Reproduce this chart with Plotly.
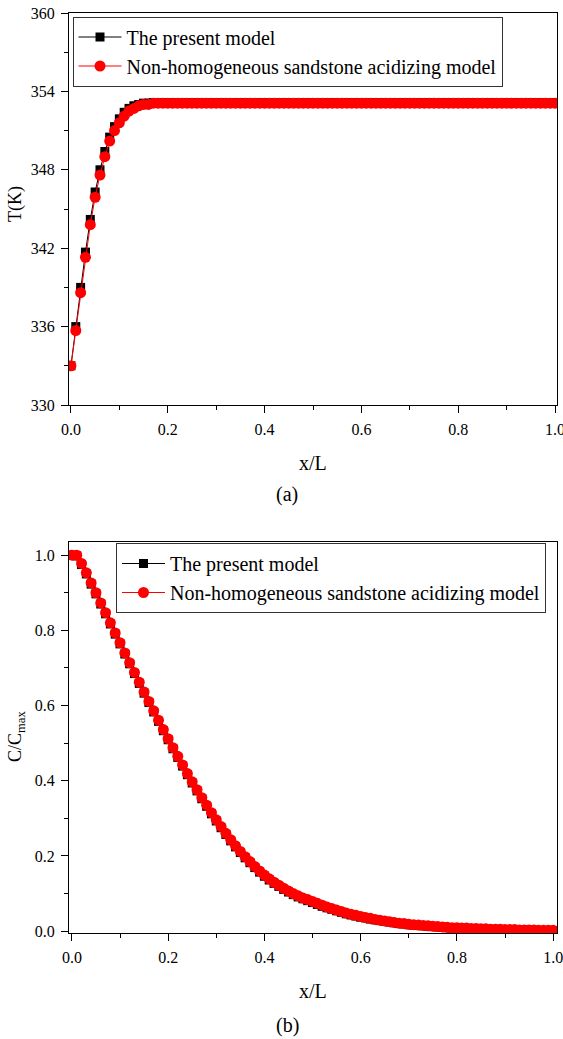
import plotly.graph_objects as go

x_vals = [round(i * 0.01, 2) for i in range(101)]

# (a) temperature profile, T (K)
t_present = [
    333.0, 336.0, 339.0, 341.7, 344.2, 346.3, 348.0, 349.4, 350.5, 351.3,
    351.9, 352.4, 352.7, 352.9, 353.0, 353.1, 353.1, 353.15, 353.15, 353.15,
    353.15, 353.15, 353.15, 353.15, 353.15, 353.15, 353.15, 353.15, 353.15, 353.15,
    353.15, 353.15, 353.15, 353.15, 353.15, 353.15, 353.15, 353.15, 353.15, 353.15,
    353.15, 353.15, 353.15, 353.15, 353.15, 353.15, 353.15, 353.15, 353.15, 353.15,
    353.15, 353.15, 353.15, 353.15, 353.15, 353.15, 353.15, 353.15, 353.15, 353.15,
    353.15, 353.15, 353.15, 353.15, 353.15, 353.15, 353.15, 353.15, 353.15, 353.15,
    353.15, 353.15, 353.15, 353.15, 353.15, 353.15, 353.15, 353.15, 353.15, 353.15,
    353.15, 353.15, 353.15, 353.15, 353.15, 353.15, 353.15, 353.15, 353.15, 353.15,
    353.15, 353.15, 353.15, 353.15, 353.15, 353.15, 353.15, 353.15, 353.15, 353.15,
    353.15,
]
t_nonhomo = [
    333.0, 335.7, 338.6, 341.3, 343.8, 345.9, 347.6, 349.0, 350.2, 351.0,
    351.6, 352.1, 352.5, 352.7, 352.9, 353.0, 353.0, 353.1, 353.1, 353.1,
    353.1, 353.1, 353.1, 353.1, 353.1, 353.1, 353.1, 353.1, 353.1, 353.1,
    353.1, 353.1, 353.1, 353.1, 353.1, 353.1, 353.1, 353.1, 353.1, 353.1,
    353.1, 353.1, 353.1, 353.1, 353.1, 353.1, 353.1, 353.1, 353.1, 353.1,
    353.1, 353.1, 353.1, 353.1, 353.1, 353.1, 353.1, 353.1, 353.1, 353.1,
    353.1, 353.1, 353.1, 353.1, 353.1, 353.1, 353.1, 353.1, 353.1, 353.1,
    353.1, 353.1, 353.1, 353.1, 353.1, 353.1, 353.1, 353.1, 353.1, 353.1,
    353.1, 353.1, 353.1, 353.1, 353.1, 353.1, 353.1, 353.1, 353.1, 353.1,
    353.1, 353.1, 353.1, 353.1, 353.1, 353.1, 353.1, 353.1, 353.1, 353.1,
    353.1,
]

# (b) normalised concentration, C/Cmax
c_nonhomo = [
    1.000, 1.000, 0.978, 0.953, 0.926, 0.900, 0.873, 0.847, 0.820, 0.793,
    0.767, 0.740, 0.714, 0.688, 0.662, 0.636, 0.611, 0.586, 0.561, 0.536,
    0.512, 0.488, 0.465, 0.442, 0.419, 0.397, 0.376, 0.355, 0.335, 0.315,
    0.296, 0.278, 0.260, 0.243, 0.227, 0.212, 0.198, 0.185, 0.172, 0.160,
    0.149, 0.139, 0.130, 0.122, 0.114, 0.107, 0.100, 0.094, 0.088, 0.084,
    0.079, 0.074, 0.069, 0.064, 0.060, 0.056, 0.052, 0.048, 0.045, 0.042,
    0.039, 0.036, 0.034, 0.031, 0.029, 0.027, 0.025, 0.023, 0.021, 0.020,
    0.018, 0.017, 0.016, 0.015, 0.014, 0.013, 0.012, 0.011, 0.010, 0.009,
    0.009, 0.008, 0.008, 0.007, 0.007, 0.006, 0.006, 0.005, 0.005, 0.005,
    0.004, 0.004, 0.004, 0.003, 0.003, 0.003, 0.003, 0.002, 0.002, 0.002,
    0.002,
]
c_present = [
    1.000, 0.998, 0.975, 0.950, 0.923, 0.897, 0.870, 0.844, 0.817, 0.790,
    0.764, 0.737, 0.711, 0.685, 0.659, 0.633, 0.608, 0.583, 0.558, 0.533,
    0.509, 0.485, 0.462, 0.439, 0.416, 0.394, 0.373, 0.352, 0.332, 0.312,
    0.293, 0.275, 0.257, 0.240, 0.224, 0.209, 0.195, 0.182, 0.169, 0.157,
    0.146, 0.136, 0.127, 0.119, 0.111, 0.104, 0.097, 0.091, 0.086, 0.081,
    0.076, 0.071, 0.066, 0.062, 0.058, 0.054, 0.050, 0.046, 0.043, 0.040,
    0.037, 0.035, 0.032, 0.030, 0.028, 0.026, 0.024, 0.022, 0.020, 0.019,
    0.017, 0.016, 0.015, 0.014, 0.013, 0.012, 0.011, 0.010, 0.009, 0.008,
    0.008, 0.007, 0.007, 0.006, 0.006, 0.005, 0.005, 0.004, 0.004, 0.004,
    0.003, 0.003, 0.003, 0.002, 0.002, 0.002, 0.002, 0.001, 0.001, 0.001,
    0.001,
]

x_ticks = [0, 0.2, 0.4, 0.6, 0.8, 1.0]
x_tick_text = ["0.0", "0.2", "0.4", "0.6", "0.8", "1.0"]
t_ticks = [330, 336, 342, 348, 354, 360]
c_ticks = [0, 0.2, 0.4, 0.6, 0.8, 1.0]
c_tick_text = ["0.0", "0.2", "0.4", "0.6", "0.8", "1.0"]

name_a = "The present model"
name_b = "Non-homogeneous sandstone acidizing model"

FONT = "Liberation Serif"

fig = go.Figure()

def add_pair(xa, ya, y_black, y_red, legend):
    fig.add_trace(go.Scatter(
        x=x_vals, y=y_black, name=name_a, mode="lines+markers",
        xaxis=xa, yaxis=ya, legend=legend,
        line=dict(color="black", width=1),
        marker=dict(symbol="square", size=9, color="black"),
    ))
    fig.add_trace(go.Scatter(
        x=x_vals, y=y_red, name=name_b, mode="lines+markers",
        xaxis=xa, yaxis=ya, legend=legend,
        line=dict(color="red", width=1),
        marker=dict(symbol="circle", size=11, color="red"),
    ))

add_pair("x", "y", t_present, t_nonhomo, "legend")
add_pair("x2", "y2", c_present, c_nonhomo, "legend2")

axis_common = dict(
    showline=True, linecolor="black", linewidth=1.3, mirror=True,
    ticks="outside", ticklen=7, tickwidth=1.2, tickcolor="black",
    showgrid=False, zeroline=False, ticklabeloverflow="allow",
    automargin=False, ticklabelstandoff=3,
    tickfont=dict(family=FONT, size=16, color="black"),
    minor=dict(ticks="outside", ticklen=4, tickwidth=1, tickcolor="black"),
)

x_dom = [69 / 563, 557 / 563]

legend_common = dict(
    xanchor="left", yanchor="top", bgcolor="white",
    bordercolor="#333333", borderwidth=1,
    font=dict(family=FONT, size=20, color="black"),
    tracegroupgap=0, itemwidth=43,
)

fig.update_layout(
    template="none",
    width=563, height=1039,
    margin=dict(l=0, r=0, t=0, b=0, autoexpand=False),
    paper_bgcolor="white", plot_bgcolor="white",
    font=dict(family=FONT, color="black"),
    showlegend=True,
    xaxis=dict(domain=x_dom, anchor="y", range=[-0.004, 1.004],
               tickvals=x_ticks, ticktext=x_tick_text, **axis_common),
    yaxis=dict(domain=[1 - 405 / 1039, 1 - 13 / 1039], anchor="x",
               range=[330, 360], tickvals=t_ticks, **axis_common),
    xaxis2=dict(domain=x_dom, anchor="y2", range=[-0.006, 1.008],
                tickvals=x_ticks, ticktext=x_tick_text, **axis_common),
    yaxis2=dict(domain=[1 - 933 / 1039, 1 - 542 / 1039], anchor="x2",
                range=[-0.005, 1.035], tickvals=c_ticks,
                ticktext=c_tick_text, **axis_common),
    legend=dict(x=72.5 / 563, y=1 - 16.5 / 1039, **legend_common),
    legend2=dict(x=116 / 563, y=1 - 543 / 1039, **legend_common),
)

fig.update_xaxes(minor_dtick=0.1)
fig.update_layout(yaxis_minor_dtick=3, yaxis2_minor_dtick=0.1)

annos = [
    dict(text="x/L", x=313, y=463),
    dict(text="(a)", x=287, y=495),
    dict(text="x/L", x=313, y=991),
    dict(text="(b)", x=287, y=1025),
]
for a in annos:
    fig.add_annotation(text=a["text"], x=a["x"] / 563, y=1 - a["y"] / 1039,
                       xref="paper", yref="paper", showarrow=False,
                       xanchor="center", yanchor="middle",
                       font=dict(family=FONT, size=20, color="black"))

fig.add_annotation(text="T(K)", x=16 / 563, y=1 - 204 / 1039, xref="paper",
                   yref="paper", showarrow=False, textangle=-90,
                   xanchor="center", yanchor="middle",
                   font=dict(family=FONT, size=18, color="black"))
fig.add_annotation(text="C/C<sub>max</sub>", x=16 / 563, y=1 - 737 / 1039,
                   xref="paper", yref="paper", showarrow=False, textangle=-90,
                   xanchor="center", yanchor="middle",
                   font=dict(family=FONT, size=18, color="black"))

fig.write_html("out.html")
